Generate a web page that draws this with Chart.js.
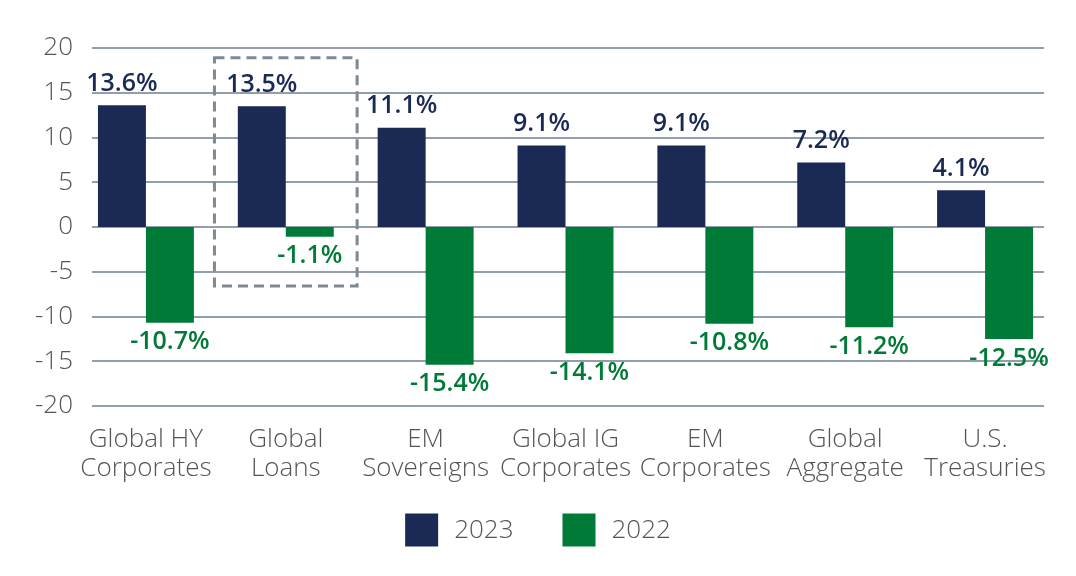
<!DOCTYPE html>
<html>
<head>
<meta charset="utf-8">
<script src="https://cdn.jsdelivr.net/npm/chart.js@4.4.1/dist/chart.umd.min.js"></script>
<style>
  html, body { margin: 0; padding: 0; background: #fff; }
  #wrap { width: 1076px; height: 576px; }
</style>
</head>
<body>
<div id="wrap"><canvas id="barChart" width="1076" height="576"></canvas></div>
<script>
// categorias y valores
const categories = [
  ['Global HY', 'Corporates'],
  ['Global', 'Loans'],
  ['EM', 'Sovereigns'],
  ['Global IG', 'Corporates'],
  ['EM', 'Corporates'],
  ['Global', 'Aggregate'],
  ['U.S.', 'Treasuries']
];
const returns2023 = [13.6, 13.5, 11.1, 9.1, 9.1, 7.2, 4.1];
const returns2022 = [-10.7, -1.1, -15.4, -14.1, -10.8, -11.2, -12.5];
const yTicks = [-20, -15, -10, -5, 0, 5, 10, 15, 20];

// recuadro punteado alrededor de Global Loans
const highlightIndex = 1;
const highlightRange = [18.9, -6.6];

const navy = '#1b2a54';
const green = '#007a37';
const textGray = '#555555';
const gridColor = '#929eab';
const fontFamily = '"Open Sans", "Noto Sans", sans-serif';

// lineas de la grilla dibujadas a mano (no cubren todo el area)
const gridPlugin = {
  id: 'customGrid',
  beforeDatasetsDraw(chart) {
    const { ctx, chartArea, scales } = chart;
    ctx.save();
    ctx.strokeStyle = gridColor;
    ctx.lineWidth = 2;
    yTicks.forEach(v => {
      const y = Math.round(scales.y.getPixelForValue(v));
      ctx.beginPath();
      ctx.moveTo(chartArea.left + 16, y);
      ctx.lineTo(chartArea.right - 11, y);
      ctx.stroke();
    });
    ctx.restore();
  }
};

// etiquetas de valor sobre / debajo de cada barra
const valueLabels = {
  id: 'valueLabels',
  afterDatasetsDraw(chart) {
    const { ctx } = chart;
    ctx.save();
    ctx.font = '600 25px ' + fontFamily;
    ctx.textAlign = 'center';
    chart.data.datasets.forEach((ds, di) => {
      const meta = chart.getDatasetMeta(di);
      ctx.fillStyle = ds.backgroundColor;
      meta.data.forEach((bar, i) => {
        const v = ds.data[i];
        const txt = v.toFixed(1) + '%';
        if (v >= 0) {
          ctx.textBaseline = 'bottom';
          ctx.fillText(txt, bar.x, bar.y - 9);
        } else {
          ctx.textBaseline = 'top';
          ctx.fillText(txt, bar.x, bar.y + 7);
        }
      });
    });
    ctx.restore();
  }
};

const highlightBox = {
  id: 'highlightBox',
  afterDatasetsDraw(chart) {
    const { ctx, scales } = chart;
    const cx = scales.x.getPixelForValue(highlightIndex);
    const cw = scales.x.width / categories.length;
    const x1 = cx - cw * 0.51;
    const x2 = cx + cw * 0.51;
    const y1 = scales.y.getPixelForValue(highlightRange[0]);
    const y2 = scales.y.getPixelForValue(highlightRange[1]);
    ctx.save();
    ctx.strokeStyle = '#7d8995';
    ctx.lineWidth = 3;
    ctx.setLineDash([10, 6]);
    ctx.strokeRect(x1, y1, x2 - x1, y2 - y1);
    ctx.restore();
  }
};

// leyenda dibujada a mano (cuadros grandes, mas separacion entre items)
const bottomLegend = {
  id: 'bottomLegend',
  afterDraw(chart) {
    const { ctx } = chart;
    const box = 33, gap = 16, itemGap = 49;
    const cy = chart.height - 46;
    ctx.save();
    ctx.font = '300 26px ' + fontFamily;
    const items = chart.data.datasets.map(ds => ({
      text: ds.label, color: ds.backgroundColor, w: ctx.measureText(ds.label).width
    }));
    const total = items.reduce((s, it) => s + box + gap + it.w, 0) + itemGap * (items.length - 1);
    let x = chart.width / 2 - total / 2;
    items.forEach(it => {
      ctx.fillStyle = it.color;
      ctx.fillRect(x, cy - box / 2, box, box);
      ctx.fillStyle = textGray;
      ctx.textBaseline = 'middle';
      ctx.textAlign = 'left';
      ctx.fillText(it.text, x + box + gap, cy + 1);
      x += box + gap + it.w + itemGap;
    });
    ctx.restore();
  }
};

const barChart = new Chart(document.getElementById('barChart'), {
  type: 'bar',
  data: {
    labels: categories,
    datasets: [
      {
        label: '2023',
        data: returns2023,
        backgroundColor: navy,
        borderWidth: 0,
        categoryPercentage: 0.686,
        barPercentage: 1.0
      },
      {
        label: '2022',
        data: returns2022,
        backgroundColor: green,
        borderWidth: 0,
        categoryPercentage: 0.686,
        barPercentage: 1.0
      }
    ]
  },
  options: {
    responsive: false,
    animation: false,
    devicePixelRatio: 1,
    layout: {
      padding: { top: 48, right: 21, left: 0, bottom: 90 }
    },
    scales: {
      x: {
        grid: { display: false, drawTicks: false },
        border: { display: false },
        ticks: {
          color: textGray,
          font: { family: fontFamily, size: 26, weight: '300', lineHeight: 1.12 },
          padding: 19,
          maxRotation: 0,
          autoSkip: false
        },
        afterFit(scale) { scale.height = 80; }
      },
      y: {
        min: -20,
        max: 20,
        grid: { display: false, drawTicks: false },
        border: { display: false },
        afterBuildTicks(scale) { scale.ticks = yTicks.map(v => ({ value: v })); },
        ticks: {
          color: textGray,
          font: { family: fontFamily, size: 26, weight: '300' },
          padding: 3
        },
        afterFit(scale) { scale.width = 76; }
      }
    },
    plugins: {
      legend: { display: false },
      tooltip: { enabled: false },
      title: { display: false }
    }
  },
  plugins: [gridPlugin, valueLabels, highlightBox, bottomLegend]
});
</script>
</body>
</html>
